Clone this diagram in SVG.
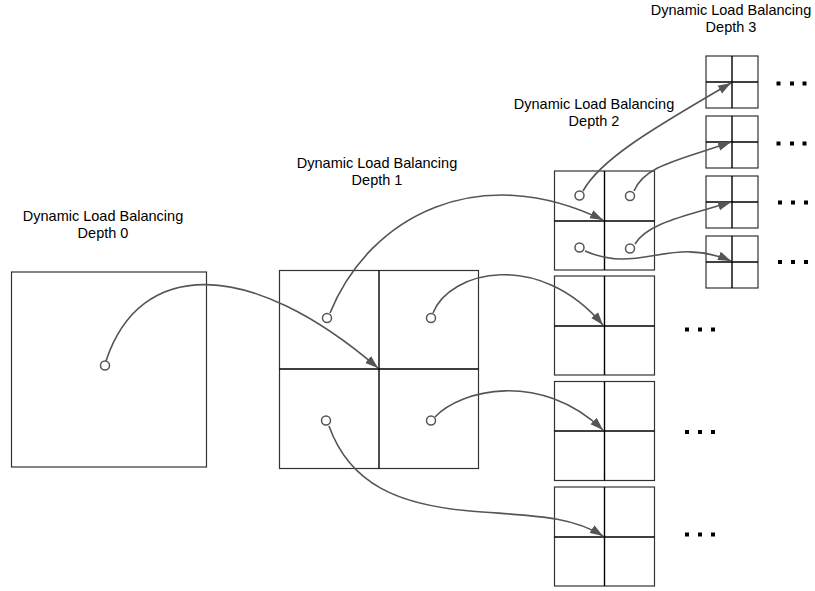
<svg xmlns="http://www.w3.org/2000/svg" width="815" height="591" viewBox="0 0 815 591">
<style>
text{font-family:"Liberation Sans",Arial,sans-serif;font-size:14.5px;fill:#000;text-anchor:middle}
.box{fill:#fff;stroke:#333;stroke-width:1.2}
.div{stroke:#000;stroke-width:1.4;fill:none}
.dot{fill:#fff;stroke:#555;stroke-width:1.5}
.link{fill:none;stroke:#555;stroke-width:1.6;marker-end:url(#ah)}
.ell{fill:#000}
</style>
<defs>
<marker id="ah" markerUnits="userSpaceOnUse" markerWidth="14" markerHeight="10" refX="13" refY="5" orient="auto">
<path d="M0,0.5 L13,5 L0,9.5 z" fill="#555"/>
</marker>
</defs>
<g id="labels">
<text x="103" y="221">Dynamic Load Balancing</text><text x="103" y="238">Depth 0</text>
<text x="377" y="168">Dynamic Load Balancing</text><text x="377" y="185">Depth 1</text>
<text x="594" y="109">Dynamic Load Balancing</text><text x="594" y="126">Depth 2</text>
<text x="731" y="15">Dynamic Load Balancing</text><text x="731" y="32">Depth 3</text>
</g>
<g id="depth0">
<rect class="box" x="11.5" y="272" width="195" height="195"/>
</g>
<g id="depth1">
<rect class="box" x="279.5" y="270.5" width="199" height="198"/>
<path class="div" d="M379,270.5V468.5M279.5,369H478.5"/>
</g>
<g id="depth2">
<g id="d2-1"><rect class="box" x="554.5" y="171" width="100" height="99"/><path class="div" d="M604.5,171V270M554.5,221H654.5"/></g>
<g id="d2-2"><rect class="box" x="554.5" y="276" width="100" height="99"/><path class="div" d="M604.5,276V375M554.5,326H654.5"/></g>
<g id="d2-3"><rect class="box" x="554.5" y="381.5" width="100" height="99"/><path class="div" d="M604.5,381.5V480.5M554.5,431H654.5"/></g>
<g id="d2-4"><rect class="box" x="554.5" y="487" width="100" height="99"/><path class="div" d="M604.5,487V586M554.5,537H654.5"/></g>
</g>
<g id="depth3">
<g id="d3-1"><rect class="box" x="706" y="56" width="52" height="52"/><path class="div" d="M732,56V108M706,82H758"/></g>
<g id="d3-2"><rect class="box" x="706" y="116" width="52" height="52"/><path class="div" d="M732,116V168M706,142H758"/></g>
<g id="d3-3"><rect class="box" x="706" y="176" width="52" height="52"/><path class="div" d="M732,176V228M706,202H758"/></g>
<g id="d3-4"><rect class="box" x="706" y="236" width="52" height="52"/><path class="div" d="M732,236V288M706,262H758"/></g>
</g>
<g id="ellipses">
<rect class="ell" x="685" y="327.5" width="4" height="4"/><rect class="ell" x="698" y="327.5" width="4" height="4"/><rect class="ell" x="711" y="327.5" width="4" height="4"/>
<rect class="ell" x="685" y="430" width="4" height="4"/><rect class="ell" x="698" y="430" width="4" height="4"/><rect class="ell" x="711" y="430" width="4" height="4"/>
<rect class="ell" x="685" y="532.5" width="4" height="4"/><rect class="ell" x="698" y="532.5" width="4" height="4"/><rect class="ell" x="711" y="532.5" width="4" height="4"/>
<rect class="ell" x="776.5" y="81.5" width="4" height="4"/><rect class="ell" x="790" y="81.5" width="4" height="4"/><rect class="ell" x="802.5" y="81.5" width="4" height="4"/>
<rect class="ell" x="776.5" y="141.5" width="4" height="4"/><rect class="ell" x="790" y="141.5" width="4" height="4"/><rect class="ell" x="802.5" y="141.5" width="4" height="4"/>
<rect class="ell" x="778" y="200.5" width="4" height="4"/><rect class="ell" x="791" y="200.5" width="4" height="4"/><rect class="ell" x="804" y="200.5" width="4" height="4"/>
<rect class="ell" x="778" y="260" width="4" height="4"/><rect class="ell" x="791" y="260" width="4" height="4"/><rect class="ell" x="804" y="260" width="4" height="4"/>
</g>
<g id="connectors">
<path class="link" d="M106,361 C140,258 250,258 378,368"/>
<path class="link" d="M330,313 C370,215 480,160 603,220"/>
<path class="link" d="M433,313 C450,270 540,250 603,325"/>
<path class="link" d="M435,417 C460,390 540,370 603,430"/>
<path class="link" d="M329,426 C350,485 400,505 470,511 C530,516 570,515 603,536"/>
<path class="link" d="M583,191 C600,160 650,130 731,83"/>
<path class="link" d="M634,191 C645,165 680,160 731,142"/>
<path class="link" d="M635,244 C648,222 690,215 731,202"/>
<path class="link" d="M585,251 C640,275 670,235 731,261"/>
</g>
<g id="ports">
<circle class="dot" cx="105" cy="365.5" r="4.5"/>
<circle class="dot" cx="327" cy="318" r="4.5"/>
<circle class="dot" cx="431" cy="318" r="4.5"/>
<circle class="dot" cx="326" cy="420.5" r="4.5"/>
<circle class="dot" cx="431" cy="420.5" r="4.5"/>
<circle class="dot" cx="579.5" cy="195.5" r="4.5"/>
<circle class="dot" cx="630" cy="196" r="4.5"/>
<circle class="dot" cx="579.5" cy="247.5" r="4.5"/>
<circle class="dot" cx="630" cy="248.5" r="4.5"/>
</g>
</svg>
